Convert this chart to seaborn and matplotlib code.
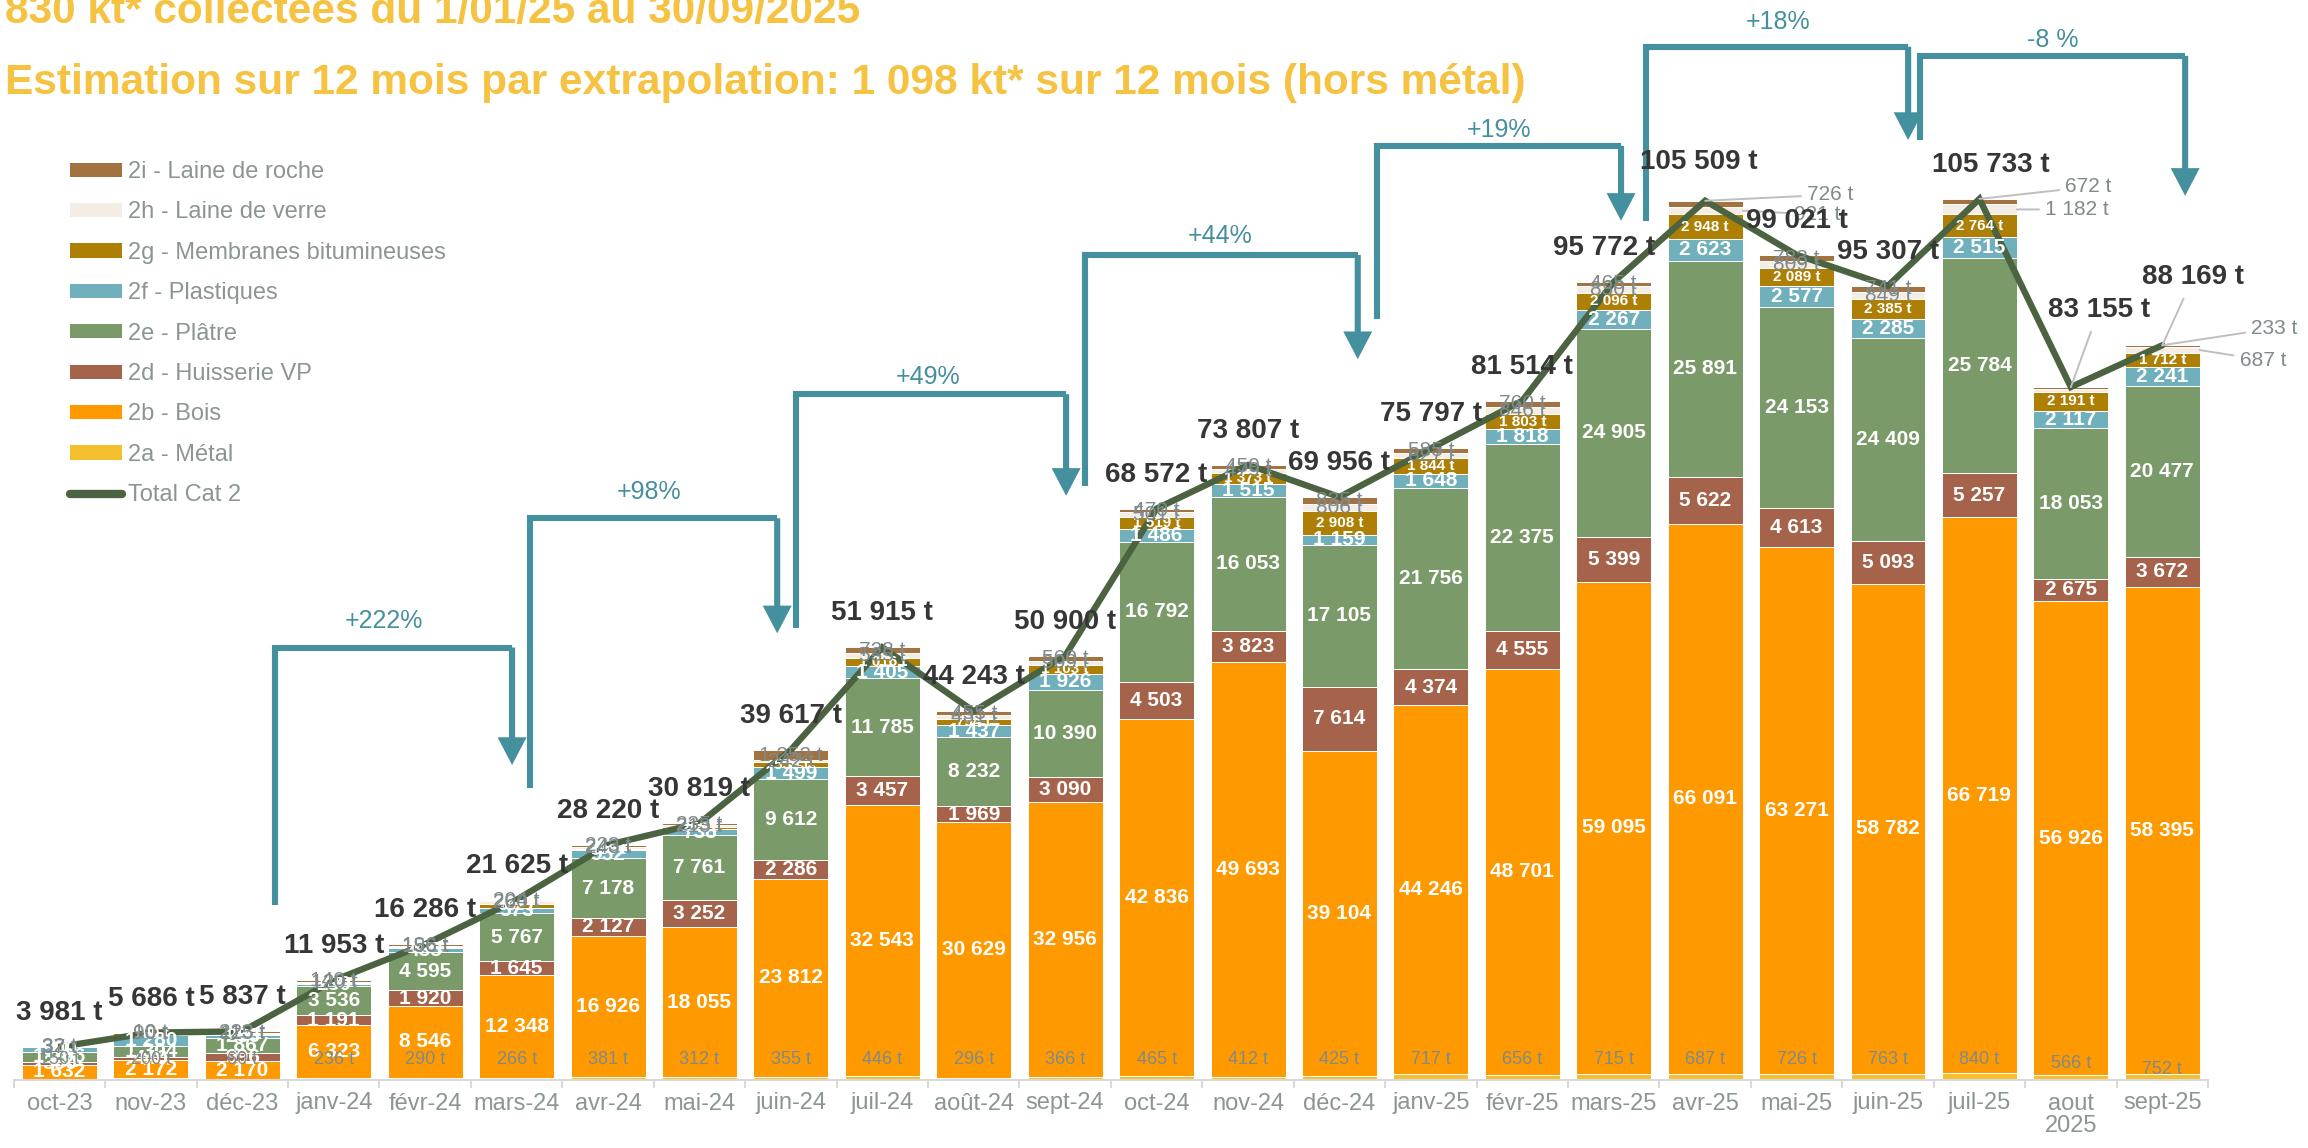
import numpy as np
import matplotlib
matplotlib.use("Agg")
import matplotlib.pyplot as plt
import seaborn as sns
from matplotlib.patches import Patch
from matplotlib.lines import Line2D

# ---------------- data ----------------
months = ["oct-23", "nov-23", "déc-23", "janv-24", "févr-24", "mars-24", "avr-24", "mai-24",
          "juin-24", "juil-24", "août-24", "sept-24", "oct-24", "nov-24", "déc-24", "janv-25",
          "févr-25", "mars-25", "avr-25", "mai-25", "juin-25", "juil-25", "aout\n2025", "sept-25"]
metal = [150, 200, 60, 236, 290, 266, 381, 312, 355, 446, 296, 366, 465, 412, 425, 717,
         656, 715, 687, 726, 763, 840, 566, 752]
bois = [1632, 2172, 2170, 6323, 8546, 12348, 16926, 18055, 23812, 32543, 30629, 32956, 42836,
        49693, 39104, 44246, 48701, 59095, 66091, 63271, 58782, 66719, 56926, 58395]
huisserie = [360, 440, 996, 1191, 1920, 1645, 2127, 3252, 2286, 3457, 1969, 3090, 4503, 3823,
             7614, 4374, 4555, 5399, 5622, 4613, 5093, 5257, 2675, 3672]
platre = [1266, 1304, 1867, 3536, 4595, 5767, 7178, 7761, 9612, 11785, 8232, 10390, 16792,
          16053, 17105, 21756, 22375, 24905, 25891, 24153, 24409, 25784, 18053, 20477]
plastiques = [500, 1280, 286, 230, 435, 573, 952, 738, 1499, 1405, 1437, 1926, 1486, 1515,
              1159, 1648, 1818, 2267, 2623, 2577, 2285, 2515, 2117, 2241]
membranes = [4, 190, 120, 177, 148, 562, 190, 253, 559, 1016, 794, 1103, 1519, 1373, 2908,
             1844, 1803, 2096, 2948, 2089, 2385, 2764, 2191, 1712]
verre = [37, 90, 115, 120, 156, 260, 243, 213, 242, 535, 431, 509, 501, 479, 806, 627, 846,
         830, 921, 809, 849, 1182, 420, 687]
roche = [32, 10, 223, 140, 196, 204, 223, 235, 1252, 728, 455, 560, 470, 459, 835, 585, 760,
         465, 726, 783, 741, 672, 207, 233]
totals = [3981, 5686, 5837, 11953, 16286, 21625, 28220, 30819, 39617, 51915, 44243, 50900,
          68572, 73807, 69956, 75797, 81514, 95772, 105509, 99021, 95307, 105733, 83155, 88169]

series_names = ["2a - Métal", "2b - Bois", "2d - Huisserie VP", "2e - Plâtre", "2f - Plastiques",
                "2g - Membranes bitumineuses", "2h - Laine de verre", "2i - Laine de roche"]
series_values = [metal, bois, huisserie, platre, plastiques, membranes, verre, roche]
series_colors = ["#F5C030", "#FF9900", "#A4634A", "#7A9B69", "#6FB0BC", "#AE7F05", "#F4EDE5", "#A27340"]

# growth brackets: (x_left, y_left_bottom, x_right, y_top, y_tip, label, label_x, label_y)
brackets = [
    (2.36, 21000, 4.95, 51900, 37800, "+222%", 3.55, 55100),
    (5.15, 35100, 7.85, 67400, 53600, "+98%", 6.45, 70600),
    (8.06, 54200, 11.01, 82300, 70100, "+49%", 9.5, 84400),
    (11.22, 71300, 14.20, 99000, 86500, "+44%", 12.7, 101300),
    (14.41, 91300, 17.08, 112100, 103100, "+19%", 15.75, 114000),
    (17.35, 103100, 20.22, 124000, 112800, "+18%", 18.8, 127000),
    (20.35, 112800, 23.25, 122900, 106100, "-8 %", 21.8, 124800),
]

title1 = "830 kt* collectées du 1/01/25 au 30/09/2025"
title2 = "Estimation sur 12 mois par extrapolation: 1 098 kt* sur 12 mois (hors métal)"


def fr(v):
    return f"{v:,}".replace(",", " ")


# ---------------- style ----------------
sns.set_theme(style="white")
plt.rcParams['font.family'] = ['Liberation Sans', 'DejaVu Sans']

GREY = "#7F8A8B"
TICKGREY = "#8A9594"
TEAL = "#44909E"
LINE = "#4B6340"
DARK = "#363636"
GOLD = "#F5C242"

W, H = 2308, 1148
fig = plt.figure(figsize=(W / 100, H / 100), dpi=100)
ax_left, ax_right, base_y = 13.8, 2208.0, 1080.0
ax = fig.add_axes([ax_left / W, (H - base_y) / H, (ax_right - ax_left) / W, base_y / H])

n = len(months)
x_idx = np.arange(n)
bottom = np.zeros(n)
bottoms = []
for vals, col in zip(series_values, series_colors):
    vals = np.asarray(vals, dtype=float)
    bottoms.append(bottom.copy())
    sns.barplot(x=x_idx, y=vals, bottom=bottom.copy(), color=col, saturation=1, width=0.82,
                edgecolor="white", linewidth=0.7, ax=ax, native_scale=True, zorder=2)
    bottom = bottom + vals

sns.lineplot(x=x_idx, y=totals, color=LINE, linewidth=4.6, ax=ax, zorder=4,
             solid_capstyle="round", solid_joinstyle="miter")

ax.set_xlim(-0.5, n - 0.5)
ax.set_ylim(0, base_y * 120.0)
for s in ["top", "right", "left"]:
    ax.spines[s].set_visible(False)
ax.spines["bottom"].set_color("#D9D9D9")
ax.spines["bottom"].set_linewidth(1.5)
ax.set_yticks([])
ax.set_xticks(x_idx)
ax.set_xticklabels(months, color=TICKGREY, fontsize=17, linespacing=1.0)
ax.set_xticks(np.arange(-0.5, n, 1.0), minor=True)
ax.tick_params(axis="x", which="major", length=0, pad=9)
ax.tick_params(axis="x", which="minor", length=6, width=1.5, color="#D9D9D9", bottom=True)
ax.set_xlabel("")
ax.set_ylabel("")
ax.grid(False)

# ---------------- segment labels ----------------
white_layers = [1, 2, 3, 4]
for li in white_layers:
    vals = series_values[li]
    for i in range(n):
        c = bottoms[li][i] + vals[i] / 2
        ax.text(i, c, fr(vals[i]), ha="center", va="center", color="white",
                fontsize=15, fontweight="bold", zorder=5)
for i in range(n):
    c = bottoms[5][i] + membranes[i] / 2
    ax.text(i, c, fr(membranes[i]) + " t", ha="center", va="center", color="white",
            fontsize=11, fontweight="bold", zorder=5)

# metal labels near bar bottom
metal_lift = {22: 16, 23: 11}
for i in range(n):
    ax.annotate(fr(metal[i]) + " t", xy=(i, 0), xytext=(0, metal_lift.get(i, 21)),
                textcoords="offset pixels", ha="center", va="center", color=GREY,
                fontsize=13, zorder=5)

# verre / roche labels
leader_bars = {18, 21, 23}
for i in range(n):
    if i in leader_bars or i == 22:
        continue
    for li, vals in ((6, verre), (7, roche)):
        c = bottoms[li][i] + vals[i] / 2
        ax.text(i, c, fr(vals[i]) + " t", ha="center", va="center", color=GREY,
                fontsize=15, zorder=5)

lead_kw = dict(arrowstyle="-", color="#BFBFBF", lw=1.4, shrinkA=2, shrinkB=0)
# (bar index, layer, anchor 'top'/'right', text offset px)
leaders = [(18, 7, "top", (125, 6)), (18, 6, "right", (75, -4)),
           (21, 7, "top", (109, 12)), (21, 6, "right", (60, 0)),
           (23, 7, "top", (112, 17)), (23, 6, "right", (63, -10))]
for i, li, anchor, off in leaders:
    vals = series_values[li]
    if anchor == "top":
        xy = (i, totals[i])
    else:
        xy = (i + 0.41, bottoms[li][i] + vals[i] / 2)
    ax.annotate(fr(vals[i]) + " t", xy=xy, xytext=off, textcoords="offset pixels",
                ha="center", va="center", color=GREY, fontsize=15, zorder=6,
                arrowprops=lead_kw)

# total labels
total_offsets = {17: (-10, 34), 18: (-6, 39), 21: (11, 34), 22: (28, 77), 23: (31, 68)}
for i in range(n):
    off = total_offsets.get(i, (0, 34))
    kw = {}
    if i in (22, 23):
        kw["arrowprops"] = dict(arrowstyle="-", color="#BFBFBF", lw=1.4, shrinkA=4, shrinkB=0)
    ax.annotate(fr(totals[i]) + " t", xy=(i, totals[i]), xytext=off, textcoords="offset pixels",
                ha="center", va="center", color=DARK, fontsize=20, fontweight="bold",
                zorder=7, **kw)

# growth brackets
for x0, y0, x1, yt, ytip, lab, lx, ly in brackets:
    ax.plot([x0, x0, x1], [y0, yt, yt], color=TEAL, lw=4.4, solid_joinstyle="miter",
            solid_capstyle="butt", zorder=3, clip_on=False)
    ax.annotate("", xy=(x1, ytip), xytext=(x1, yt),
                arrowprops=dict(arrowstyle="-|>,head_length=1.3,head_width=0.68",
                                mutation_scale=10, lw=4.4, color=TEAL, shrinkA=0, shrinkB=0,
                                joinstyle="miter", capstyle="butt"), zorder=3)
    ax.text(lx, ly, lab, ha="center", va="center", color=TEAL, fontsize=18, zorder=3)

# titles
fig.text(5 / W, 1 - 23 / H, title1, ha="left", va="baseline", color=GOLD, fontsize=30.5,
         fontweight="bold")
fig.text(5 / W, 1 - 94 / H, title2, ha="left", va="baseline", color=GOLD, fontsize=30.5,
         fontweight="bold")

# legend
handles = [Patch(facecolor=series_colors[k], edgecolor="none") for k in range(7, -1, -1)]
labels = [series_names[k] for k in range(7, -1, -1)]
handles.append(Line2D([0], [0], color=LINE, lw=6, solid_capstyle="round"))
labels.append("Total Cat 2")
fig.legend(handles, labels, loc="upper left", bbox_to_anchor=(70 / W, 1 - 161 / H),
           frameon=False, fontsize=17, labelcolor=TICKGREY, handlelength=2.2,
           handleheight=0.55, handletextpad=0.25, labelspacing=0.78, borderpad=0,
           borderaxespad=0)

fig.savefig("out.png", dpi=100)
